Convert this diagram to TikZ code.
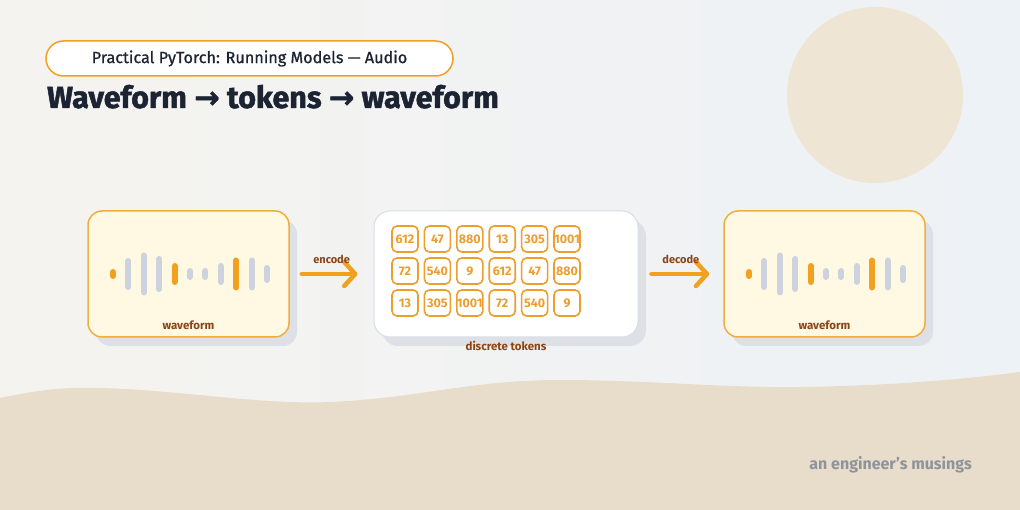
\documentclass[tikz,border=0pt]{standalone}
\usepackage{fontspec}
\setmainfont{Fira Sans}
\newfontfamily\heavyfont{Fira Sans}[BoldFeatures={FakeBold=1.6}]
\newfontfamily\medfont{Fira Sans}[FakeBold=0.9]
\newfontfamily\symfont{DejaVu Sans}[BoldFeatures={FakeBold=1.2}]
\usetikzlibrary{positioning, arrows.meta, shadows}

\definecolor{navy}{HTML}{1C2433}
\definecolor{accent}{HTML}{F2A01F}
\definecolor{boxline}{HTML}{F0AE40}
\definecolor{cream}{HTML}{FFF8E3}
\definecolor{rust}{HTML}{8A4516}
\definecolor{tokorange}{HTML}{EE9E2C}
\definecolor{bargrey}{HTML}{CDD3DE}
\definecolor{sand}{HTML}{E8DCCA}
\definecolor{sun}{HTML}{EFE5D4}
\definecolor{bgwarm}{HTML}{F5F3EF}
\definecolor{bgblue}{HTML}{EDF2F6}
\definecolor{cardshadow}{HTML}{DDE1E7}
\definecolor{tokline}{HTML}{D9DEE5}
\definecolor{brandgrey}{HTML}{8E949C}

\tikzset{
  card/.style={draw=boxline, fill=cream, line width=1.5pt, rounded corners=14pt,
    minimum width=201pt, minimum height=126pt,
    drop shadow={shadow xshift=8pt, shadow yshift=-9pt, fill=cardshadow, opacity=1}},
  tokcard/.style={card, draw=tokline, fill=white, line width=1pt,
    rounded corners=16pt, minimum width=264pt},
  token/.style={draw=tokorange, fill=white, line width=1.6pt, rounded corners=5pt,
    minimum size=26pt, inner sep=0pt, text=tokorange, font=\bfseries\fontsize{12.5}{12}\selectfont},
  lab/.style={text=rust, font=\bfseries\fontsize{11.5}{12}\selectfont},
  arrowlab/.style={text=rust, font=\bfseries\fontsize{11}{12}\selectfont},
  flow/.style={draw=accent, line width=4.5pt, line cap=round,
    -{Straight Barb[length=11pt, width=24pt, round]}},
  bar/.style={line width=6pt, line cap=round},
}

\begin{document}
\begin{tikzpicture}[x=1pt, y=-1pt]
\useasboundingbox (0,0) rectangle (1020,510);
\shade[left color=bgwarm, right color=bgblue] (0,0) rectangle (1020,510);
\fill[sun] (875,95) circle (88);
\fill[sand] (0,398) .. controls (40,390) and (60,387) .. (100,388)
  .. controls (180,390) and (260,405) .. (330,402)
  .. controls (420,398) and (470,380) .. (560,380)
  .. controls (650,380) and (720,388) .. (800,387)
  .. controls (880,386) and (960,380) .. (1020,372)
  -- (1020,510) -- (0,510) -- cycle;

% title
\node[draw=accent, fill=white, line width=1.5pt, rounded corners=17.5pt,
  minimum width=407pt, minimum height=35pt, text=navy,
  font=\medfont\fontsize{16.2}{17}\selectfont] (tag) at (249.5,58.5)
  {Practical PyTorch: Running Models — Audio};
\node[anchor=base west, inner sep=0pt, text=navy, font=\heavyfont\bfseries\fontsize{30.5}{32}\selectfont]
  (head) at (47,108) {Waveform {\symfont\bfseries →} tokens {\symfont\bfseries →} waveform};

% the three cards
\node[card] (wL) at (188.5,274) {};
\node[tokcard] (tok) at (506,274) {};
\node[card] (wR) at (824.5,274) {};

\foreach \n in {wL,wR}
{
  \begin{scope}[shift={(\n.center)}]
    \foreach \i/\h/\c in {0/5/accent,1/16/bargrey,2/21.5/bargrey,3/18/bargrey,4/11/accent,
      5/6/bargrey,6/6/bargrey,7/11/bargrey,8/16.5/accent,9/16.5/bargrey,10/9/bargrey}
      \draw[bar, \c] ({-75.5+15.4*\i},{-\h+3}) -- ({-75.5+15.4*\i},{\h-3});
  \end{scope}
}
\node[lab, above=5pt of wL.south] (wLlab) {waveform};
\node[lab, above=5pt of wR.south] (wRlab) {waveform};

\foreach \v [count=\k from 0] in {612,47,880,13,305,1001,72,540,9,612,47,880,13,305,1001,72,540,9}
{
  \pgfmathtruncatemacro\c{mod(\k,6)}
  \pgfmathtruncatemacro\r{\k/6}
  \node[token] (t\k) at ({405+32.4*\c},{239+32*\r}) {\v};
}
\node[lab, below=0pt of tok] (toklab) {discrete tokens};

% connectors
\draw[flow, shorten <=12pt, shorten >=16pt] (wL) -- node[arrowlab, above=5pt] {encode} (tok);
\draw[flow, shorten <=13pt, shorten >=14pt] (tok) -- node[arrowlab, above=5pt] {decode} (wR);

\node[anchor=base east, inner sep=0pt, text=brandgrey, font=\bfseries\fontsize{16}{17}\selectfont]
  (brand) at (972,469) {an engineer's musings};
\end{tikzpicture}
\end{document}
